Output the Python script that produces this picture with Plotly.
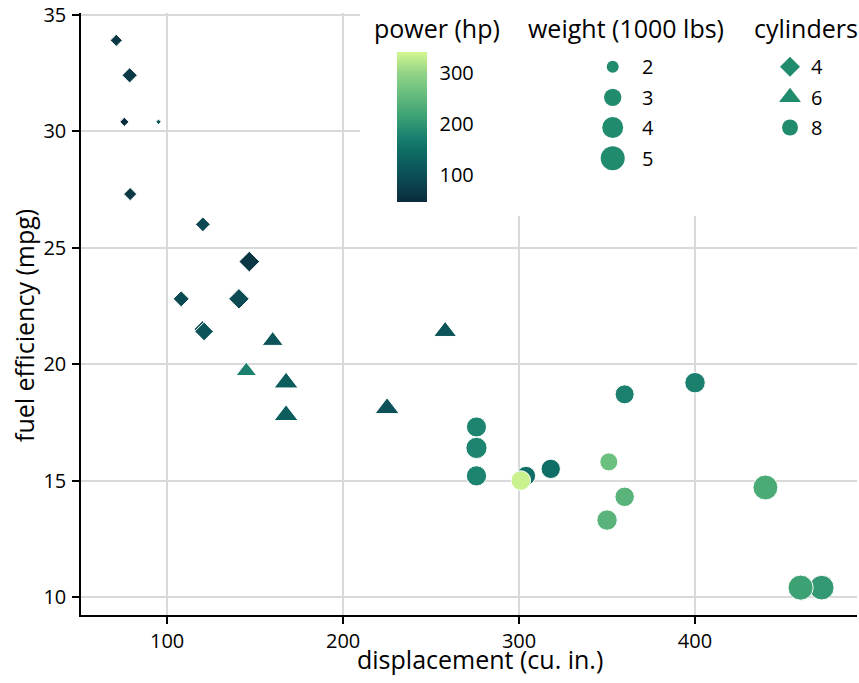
import plotly.graph_objects as go
import math

# ---- data (mtcars) ----
disp = [160, 160, 108, 258, 360, 225, 360, 146.7, 140.8, 167.6, 167.6, 275.8, 275.8, 275.8,
        472, 460, 440, 78.7, 75.7, 71.1, 120.1, 318, 304, 350, 400, 79, 120.3, 95.1, 351, 145, 301, 121]
mpg = [21.0, 21.0, 22.8, 21.4, 18.7, 18.1, 14.3, 24.4, 22.8, 19.2, 17.8, 16.4, 17.3, 15.2,
       10.4, 10.4, 14.7, 32.4, 30.4, 33.9, 21.5, 15.5, 15.2, 13.3, 19.2, 27.3, 26.0, 30.4, 15.8, 19.7, 15.0, 21.4]
cyl = [6, 6, 4, 6, 8, 6, 8, 4, 4, 6, 6, 8, 8, 8, 8, 8, 8, 4, 4, 4, 4, 8, 8, 8, 8, 4, 4, 4, 8, 6, 8, 4]
hp = [110, 110, 93, 110, 175, 105, 245, 62, 95, 123, 123, 180, 180, 180, 205, 215, 230, 66, 52, 65,
      97, 150, 150, 245, 175, 66, 91, 113, 264, 175, 335, 109]
wt = [2.620, 2.875, 2.320, 3.215, 3.440, 3.460, 3.570, 3.190, 3.150, 3.440, 3.440, 4.070, 3.730, 3.780,
      5.250, 5.424, 5.345, 2.200, 1.615, 1.835, 2.465, 3.520, 3.435, 3.840, 3.845, 1.935, 2.140, 1.513,
      3.170, 2.770, 3.570, 2.780]

x_ticks = [100, 200, 300, 400]
y_ticks = [10, 15, 20, 25, 30, 35]
hp_ticks = [100, 200, 300]
wt_legend = [2, 3, 4, 5]
cyl_legend = [4, 6, 8]

# ---- styles ----
FONT = "Open Sans"
TICK_SIZE = 20
TITLE_SIZE = 25
KEY_COLOR = "#218b6e"
SYMBOL = {4: "diamond", 6: "triangle-up", 8: "circle"}
SYM_SCALE = {4: 0.88, 6: 1.1, 8: 1.0}
hp_stops = [48, 65, 100, 150, 180, 215, 245, 264, 300, 341]
hp_cols = ["#0b2a3b", "#0b3846", "#0c4e56", "#0e6e66", "#1d8470", "#3ca273",
           "#59b37b", "#6cc07f", "#93d486", "#d2f68e"]
CMIN, CMAX = hp_stops[0], hp_stops[-1]
colorscale = [[(v - CMIN) / (CMAX - CMIN), c] for v, c in zip(hp_stops, hp_cols)]

# figure fills the window (body margin removed by post_script)
W, H = 859, 683
PX0, PX1, PY0, PY1 = 81, 857, 13, 615   # plot area in window pixels
ML, MT, MR, MB = PX0, PY0, W - PX1, H - PY1
PW, PH = PX1 - PX0, PY1 - PY0

wmin, wmax = min(wt), max(wt)
def size_of(w):
    return 4.8 + 20.3 * math.sqrt(max(w - wmin, 0) / (wmax - wmin))

def pxx(px):  # window pixel -> paper x
    return (px - PX0) / PW
def pxy(py):
    return (PY1 - py) / PH

# axis ranges with 5% expansion (ggplot default)
dx = (max(disp) - min(disp)) * 0.05
dy = (max(mpg) - min(mpg)) * 0.05
xr = [min(disp) - dx, max(disp) + dx]
yr = [min(mpg) - dy, max(mpg) + dy]
def px2x(px):
    return xr[0] + (px - PX0) / PW * (xr[1] - xr[0])
def px2y(py):
    return yr[1] - (py - PY0) / PH * (yr[1] - yr[0])

fig = go.Figure()

fig.add_trace(go.Scatter(
    x=disp, y=mpg, mode="markers", showlegend=False, cliponaxis=False,
    marker=dict(
        symbol=[SYMBOL[c] for c in cyl],
        size=[size_of(w) * SYM_SCALE[c] for w, c in zip(wt, cyl)],
        opacity=1,
        color=hp, colorscale=colorscale, cmin=CMIN, cmax=CMAX,
        line=dict(color="white", width=1),
        colorbar=dict(
            x=pxx(397), xanchor="left", y=pxy(51.7), yanchor="top",
            thickness=30, thicknessmode="pixels", len=150, lenmode="pixels",
            xpad=0, ypad=0, outlinewidth=0,
            tickvals=hp_ticks, ticks="outside", ticklen=9, tickcolor="white", tickwidth=1,
            tickfont=dict(family=FONT, size=TICK_SIZE, color="black"),
        ),
    ),
))

# ---- manual legends on a pixel-space overlay axis ----
row_y = [66.8, 97.3, 127.5, 158.3]
fig.add_trace(go.Scatter(
    x=[612.7] * len(wt_legend), y=row_y[:len(wt_legend)], mode="markers",
    xaxis="x2", yaxis="y2", showlegend=False, hoverinfo="skip", cliponaxis=False,
    marker=dict(symbol="circle", color=KEY_COLOR, opacity=1,
                size=[size_of(w) for w in wt_legend], line=dict(width=0)),
))
cyl_key_sizes = {4: 15.4, 6: 19, 8: 16}
fig.add_trace(go.Scatter(
    x=[790] * len(cyl_legend), y=row_y[:len(cyl_legend)], mode="markers",
    xaxis="x2", yaxis="y2", showlegend=False, hoverinfo="skip", cliponaxis=False,
    marker=dict(symbol=[SYMBOL[c] for c in cyl_legend], color=KEY_COLOR, opacity=1,
                size=[cyl_key_sizes[c] for c in cyl_legend], line=dict(width=0)),
))

ann = []
def text(s, px, py, size, xanchor="left", angle=0):
    ann.append(dict(text=s, x=pxx(px), y=pxy(py), xref="paper", yref="paper",
                    xanchor=xanchor, yanchor="middle", showarrow=False, textangle=angle,
                    font=dict(family=FONT, size=size, color="black")))

text("power (hp)", 372, 28, TITLE_SIZE)
text("weight (1000 lbs)", 526, 28, TITLE_SIZE)
text("cylinders", 752, 28, TITLE_SIZE)
for v, yy in zip(wt_legend, row_y):
    text(str(v), 640, yy, TICK_SIZE)
for v, yy in zip(cyl_legend, row_y):
    text(str(v), 809, yy, TICK_SIZE)
text("displacement (cu. in.)", 480.5, 659, TITLE_SIZE, xanchor="center")
text("fuel efficiency (mpg)", 24, 326, TITLE_SIZE, xanchor="center", angle=-90)

axis_common = dict(showgrid=True, gridcolor="#d9d9d9", gridwidth=1.5, zeroline=False,
                   showline=True, linecolor="black", linewidth=1.5,
                   ticks="outside", ticklen=7, tickwidth=1.5, tickcolor="black",
                   automargin=False, ticklabeloverflow="allow",
                   tickfont=dict(family=FONT, size=TICK_SIZE, color="black"))

fig.update_layout(
    width=W, height=H,
    margin=dict(l=ML, r=MR, t=MT, b=MB, pad=0, autoexpand=False),
    paper_bgcolor="white", plot_bgcolor="white",
    font=dict(family=FONT, color="black"),
    hovermode=False,
    xaxis=dict(range=xr, tickvals=x_ticks, ticklabelstandoff=0, **axis_common),
    yaxis=dict(range=yr, tickvals=y_ticks, ticklabelstandoff=2, **axis_common),
    xaxis2=dict(range=[PX0, PX1], overlaying="x", visible=False, fixedrange=True),
    yaxis2=dict(range=[PY1, PY0], overlaying="y", visible=False, fixedrange=True),
    annotations=ann,
    shapes=[dict(type="rect", xref="x", yref="y", layer="between",
                 x0=px2x(360), x1=xr[1], y0=px2y(216), y1=yr[1],
                 fillcolor="white", line=dict(width=0))],
)

fig.write_html(
    "out.html",
    config={"displayModeBar": False},
    post_script="document.body.style.margin='0';document.body.style.overflow='hidden';"
                "document.documentElement.style.overflow='hidden';",
)
